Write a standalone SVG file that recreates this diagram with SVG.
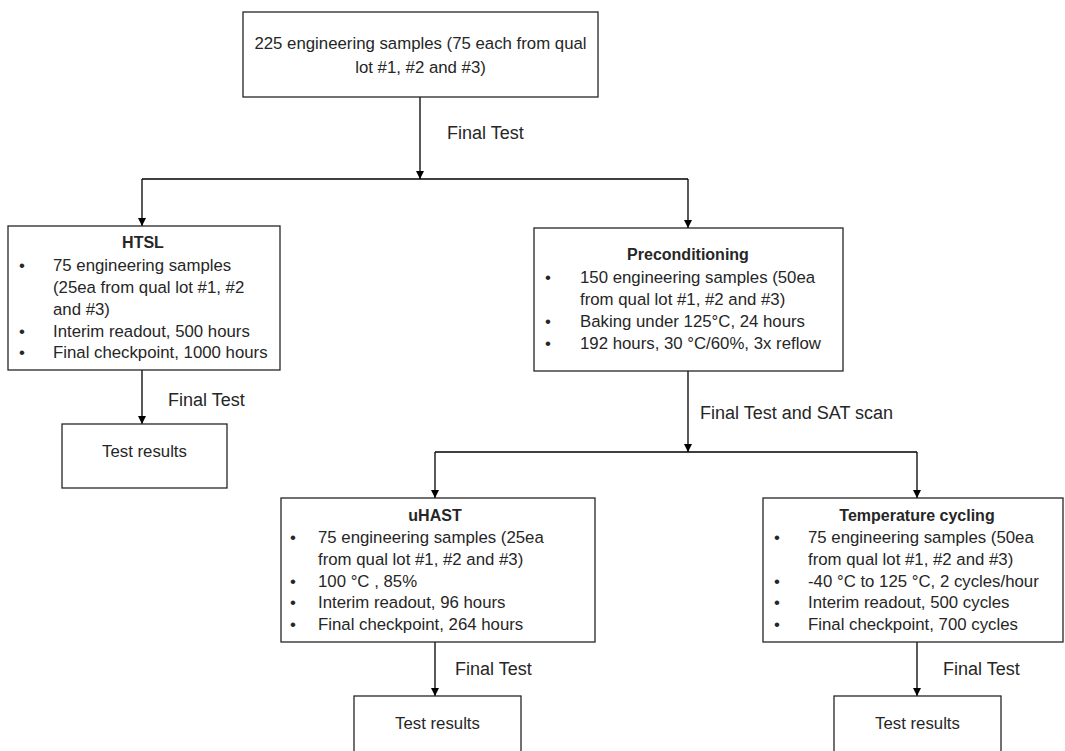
<svg xmlns="http://www.w3.org/2000/svg" width="1065" height="751" viewBox="0 0 1065 751">
<style>
.box{fill:#fff;stroke:#262626;stroke-width:1.3}
.t{font-family:"Liberation Sans",Arial,sans-serif;font-size:16.8px;fill:#262626}
.b{font-family:"Liberation Sans",Arial,sans-serif;font-size:16px;font-weight:bold;fill:#262626}
.lbl{font-family:"Liberation Sans",Arial,sans-serif;font-size:18px;fill:#262626}
.c{text-anchor:middle}
.con{fill:none;stroke:#000;stroke-width:1.3}
</style>
<defs>
<marker id="arr" viewBox="0 0 10 10" refX="10" refY="5" markerWidth="8" markerHeight="8" markerUnits="userSpaceOnUse" orient="auto">
<path d="M0,0 L10,5 L0,10 z" fill="#000"/>
</marker>
</defs>
<rect width="1065" height="751" fill="#fff"/>
<g id="connectors">
<line class="con" x1="420" y1="97" x2="420" y2="179" marker-end="url(#arr)"/>
<line class="con" x1="142" y1="179" x2="688" y2="179"/>
<line class="con" x1="142" y1="179" x2="142" y2="226" marker-end="url(#arr)"/>
<line class="con" x1="688" y1="179" x2="688" y2="228" marker-end="url(#arr)"/>
<line class="con" x1="142" y1="370" x2="142" y2="424" marker-end="url(#arr)"/>
<line class="con" x1="688" y1="371" x2="688" y2="452" marker-end="url(#arr)"/>
<line class="con" x1="435" y1="452" x2="917" y2="452"/>
<line class="con" x1="435" y1="452" x2="435" y2="498" marker-end="url(#arr)"/>
<line class="con" x1="917" y1="452" x2="917" y2="498" marker-end="url(#arr)"/>
<line class="con" x1="435" y1="642" x2="435" y2="696" marker-end="url(#arr)"/>
<line class="con" x1="917" y1="642" x2="917" y2="696" marker-end="url(#arr)"/>
<text class="lbl" x="447" y="139">Final Test</text>
<text class="lbl" x="168" y="406">Final Test</text>
<text class="lbl" x="700" y="419">Final Test and SAT scan</text>
<text class="lbl" x="455" y="675">Final Test</text>
<text class="lbl" x="943" y="675">Final Test</text>
</g>
<g id="start">
<rect class="box" x="243" y="12" width="355" height="85"/>
<text class="t c" x="420.5" y="49">225 engineering samples (75 each from qual</text>
<text class="t c" x="420.5" y="73">lot #1, #2 and #3)</text>
</g>
<g id="htsl">
<rect class="box" x="8" y="226" width="272" height="144"/>
<text class="b c" x="143" y="248">HTSL</text>
<text class="t c" x="22" y="271">•</text>
<text class="t" x="53" y="271">75 engineering samples</text>
<text class="t" x="53" y="293">(25ea from qual lot #1, #2</text>
<text class="t" x="53" y="315">and #3)</text>
<text class="t c" x="22" y="337">•</text>
<text class="t" x="53" y="337">Interim readout, 500 hours</text>
<text class="t c" x="22" y="358">•</text>
<text class="t" x="53" y="358">Final checkpoint, 1000 hours</text>
</g>
<g id="htsl-results">
<rect class="box" x="62" y="424" width="165" height="64"/>
<text class="t c" x="144.5" y="457">Test results</text>
</g>
<g id="preconditioning">
<rect class="box" x="534" y="228" width="309" height="143"/>
<text class="b c" x="688" y="260">Preconditioning</text>
<text class="t c" x="548" y="283">•</text>
<text class="t" x="580" y="283">150 engineering samples (50ea</text>
<text class="t" x="580" y="305">from qual lot #1, #2 and #3)</text>
<text class="t c" x="548" y="327">•</text>
<text class="t" x="580" y="327">Baking under 125°C, 24 hours</text>
<text class="t c" x="548" y="349">•</text>
<text class="t" x="580" y="349">192 hours, 30 °C/60%, 3x reflow</text>
</g>
<g id="uhast">
<rect class="box" x="281" y="498" width="314" height="144"/>
<text class="b c" x="435" y="521">uHAST</text>
<text class="t c" x="293" y="543">•</text>
<text class="t" x="318" y="543">75 engineering samples (25ea</text>
<text class="t" x="318" y="565">from qual lot #1, #2 and #3)</text>
<text class="t c" x="293" y="587">•</text>
<text class="t" x="318" y="587">100 °C , 85%</text>
<text class="t c" x="293" y="608">•</text>
<text class="t" x="318" y="608">Interim readout, 96 hours</text>
<text class="t c" x="293" y="630">•</text>
<text class="t" x="318" y="630">Final checkpoint, 264 hours</text>
</g>
<g id="uhast-results">
<rect class="box" x="354" y="696" width="167" height="70"/>
<text class="t c" x="437.5" y="729">Test results</text>
</g>
<g id="temperature-cycling">
<rect class="box" x="763" y="498" width="300" height="144"/>
<text class="b c" x="917" y="521">Temperature cycling</text>
<text class="t c" x="777" y="543">•</text>
<text class="t" x="808" y="543">75 engineering samples (50ea</text>
<text class="t" x="808" y="565">from qual lot #1, #2 and #3)</text>
<text class="t c" x="777" y="587">•</text>
<text class="t" x="808" y="587">-40 °C to 125 °C, 2 cycles/hour</text>
<text class="t c" x="777" y="608">•</text>
<text class="t" x="808" y="608">Interim readout, 500 cycles</text>
<text class="t c" x="777" y="630">•</text>
<text class="t" x="808" y="630">Final checkpoint, 700 cycles</text>
</g>
<g id="tc-results">
<rect class="box" x="834" y="696" width="167" height="70"/>
<text class="t c" x="917.5" y="729">Test results</text>
</g>
</svg>
